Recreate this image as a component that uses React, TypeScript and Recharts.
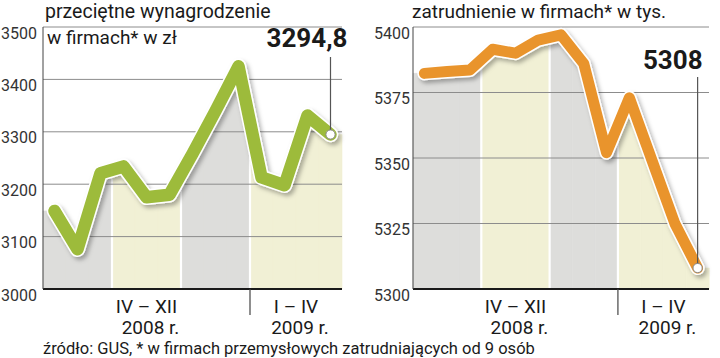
import React from 'react';
import { ComposedChart, Bar, Line, XAxis, YAxis, ReferenceLine } from 'recharts';

// months April 2008 – April 2009
const months = ['IV.08', 'V.08', 'VI.08', 'VII.08', 'VIII.08', 'IX.08', 'X.08', 'XI.08', 'XII.08', 'I.09', 'II.09', 'III.09', 'IV.09'];
const wages = [3149, 3076, 3221, 3234, 3175, 3180, 3258, 3340, 3425, 3213, 3198, 3331, 3294.8];
const employment = [5382.3, 5383, 5383.6, 5391.5, 5390, 5395, 5397, 5386, 5352, 5373, 5349, 5325, 5308];
// 0 = grey quarter, 1 = light yellow quarter
const bandGroup = [0, 0, 0, 1, 1, 1, 0, 0, 0, 1, 1, 1, 1];
const wageTicks = [3000, 3100, 3200, 3300, 3400, 3500];
const employmentTicks = [5300, 5325, 5350, 5375, 5400];
const periodLabels = [
  { start: 0, len: 9, top: 'IV  – XII', bottom: '2008 r.' },
  { start: 9, len: 4, top: 'I – IV', bottom: '2009 r.' },
];

const FONT = "Roboto, 'Liberation Sans', Arial, sans-serif";
const BAND_FILLS = ['#dddddb', '#f1f0d5'];
const CHART_W = 360;
const CHART_H = 358;
const PLOT_TOP = 27;
const PLOT_BOTTOM = 289;

interface PanelProps {
  values: number[];
  ticks: number[];
  color: string;
  yAxisWidth: number;
  rightMargin: number;
  lineWidth: number;
  valueText: string;
  valueRight: number; // x offset of label end from the last point
  valueBaseline: number;
  leaderTop: number;
  tickMargin: number;
}

function Panel({
  values,
  ticks,
  color,
  yAxisWidth,
  rightMargin,
  lineWidth,
  valueText,
  valueRight,
  valueBaseline,
  leaderTop,
  tickMargin,
}: PanelProps) {
  const data = months.map((m, i) => ({ m, v: values[i] }));
  const min = ticks[0];
  const max = ticks[ticks.length - 1];
  const bw = (CHART_W - yAxisWidth - rightMargin) / months.length;

  // area under the line, split per month so each quarter gets its own colour
  const bandShape = (props: any) => {
    const { x, y, width, height, payload } = props;
    const i = props.index ?? months.indexOf(payload.m);
    const v = values[i];
    const k = height / (v - min);
    const prev = i > 0 ? values[i - 1] : v;
    const next = i < values.length - 1 ? values[i + 1] : v;
    const yl = y + ((v - prev) / 2) * k;
    const yr = y + ((v - next) / 2) * k;
    const base = y + height;
    const fill = BAND_FILLS[bandGroup[i]];
    const bandStart = i > 0 && bandGroup[i] !== bandGroup[i - 1];
    return (
      <g>
        <path
          d={`M${x},${base}L${x},${yl}L${x + width / 2},${y}L${x + width},${yr}L${x + width},${base}Z`}
          fill={fill}
          stroke={fill}
          strokeWidth={0.6}
        />
        {bandStart && <line x1={x} x2={x} y1={yl} y2={base} stroke="#fff" strokeWidth={2.2} />}
      </g>
    );
  };

  const lastDot = (props: any) => {
    const { cx, cy, index } = props;
    if (index !== values.length - 1) return <g key={`d${index}`} />;
    return (
      <g key={`d${index}`}>
        <line x1={cx} x2={cx} y1={leaderTop} y2={cy - 4} stroke="#555" strokeWidth={1.2} />
        <circle cx={cx} cy={cy} r={4.6} fill="#fff" stroke="#888" strokeWidth={1} />
        <text
          x={cx + valueRight}
          y={valueBaseline}
          textAnchor="end"
          fontFamily={FONT}
          fontWeight={700}
          fontSize={26}
          fill="#1a1a1a"
        >
          {valueText}
        </text>
      </g>
    );
  };

  const yTick = (props: any) => {
    const { x, y, payload } = props;
    return (
      <text x={x} y={y + 11.5} textAnchor="end" fontFamily={FONT} fontSize={16} fill="#333">
        {payload.value}
      </text>
    );
  };

  const xTick = (props: any) => {
    const { x, index } = props;
    const p = periodLabels.find((pl) => pl.start === index);
    if (!p) return <g />;
    const left = x - bw / 2;
    const cx = left + (p.len * bw) / 2;
    return (
      <g>
        {index > 0 && <line x1={left} x2={left} y1={PLOT_BOTTOM} y2={PLOT_BOTTOM + 26} stroke="#444" strokeWidth={1.2} />}
        <text x={cx} y={PLOT_BOTTOM + 24} textAnchor="middle" fontFamily={FONT} fontSize={19} fill="#1a1a1a">
          {p.top}
        </text>
        <text x={cx + 4} y={PLOT_BOTTOM + 45} textAnchor="middle" fontFamily={FONT} fontSize={19} fill="#1a1a1a">
          {p.bottom}
        </text>
      </g>
    );
  };

  return (
    <ComposedChart
      width={CHART_W}
      height={CHART_H}
      data={data}
      margin={{ top: PLOT_TOP, right: rightMargin, left: 0, bottom: CHART_H - PLOT_BOTTOM - 50 }}
      barCategoryGap={0}
      barGap={0}
    >
      <XAxis
        dataKey="m"
        interval={0}
        height={50}
        tickLine={false}
        tick={xTick}
        axisLine={{ stroke: '#1a1a1a', strokeWidth: 2 }}
      />
      <YAxis
        type="number"
        domain={[min, max]}
        ticks={ticks}
        width={yAxisWidth}
        tickLine={false}
        tickSize={0}
        tickMargin={tickMargin}
        tick={yTick}
        axisLine={{ stroke: '#444', strokeWidth: 1 }}
        allowDataOverflow
      />
      <Bar dataKey="v" shape={bandShape} isAnimationActive={false} />
      {ticks.slice(1).map((t) => (
        <ReferenceLine key={t} y={t} stroke="#8c8c8c" strokeWidth={1} />
      ))}
      <Line
        dataKey="v"
        type="linear"
        stroke="#ffffff"
        strokeWidth={lineWidth + 3}
        strokeLinejoin="round"
        strokeLinecap="round"
        dot={false}
        activeDot={false}
        isAnimationActive={false}
      />
      <Line
        dataKey="v"
        type="linear"
        stroke={color}
        strokeWidth={lineWidth}
        strokeLinejoin="round"
        strokeLinecap="round"
        dot={lastDot}
        activeDot={false}
        isAnimationActive={false}
      />
    </ComposedChart>
  );
}

export default function App() {
  return (
    <div style={{ position: 'fixed', left: 0, top: 0, width: 720, height: 358, background: '#fff', overflow: 'hidden' }}>
      <style>{`path.recharts-line-curve[stroke="#ffffff"] { filter: url(#lineShadow); }`}</style>
      <svg width={0} height={0} style={{ position: 'absolute' }}>
        <defs>
          <filter id="lineShadow" x="-10%" y="-10%" width="130%" height="130%">
            <feDropShadow dx={2.5} dy={3} stdDeviation={2.2} floodColor="#000" floodOpacity={0.3} />
          </filter>
        </defs>
      </svg>
      <div style={{ position: 'absolute', left: 0, top: 0 }}>
        <Panel
          values={wages}
          ticks={wageTicks}
          color="#9dbb3b"
          yAxisWidth={43}
          rightMargin={18}
          lineWidth={12.5}
          valueText="3294,8"
          valueRight={17}
          valueBaseline={47}
          leaderTop={57}
          tickMargin={6}
        />
      </div>
      <div style={{ position: 'absolute', left: 360, top: 0 }}>
        <Panel
          values={employment}
          ticks={employmentTicks}
          color="#e9942c"
          yAxisWidth={53}
          rightMargin={11}
          lineWidth={11}
          valueText="5308"
          valueRight={5}
          valueBaseline={69}
          leaderTop={77}
          tickMargin={3}
        />
      </div>
      <svg width={720} height={358} style={{ position: 'absolute', left: 0, top: 0, pointerEvents: 'none' }}>
        <g fontFamily={FONT} fill="#1a1a1a">
          <text x={45} y={18} fontSize={19.5}>przeciętne wynagrodzenie</text>
          <text x={47} y={44} fontSize={19}>w firmach* w zł</text>
          <text x={412} y={18} fontSize={19}>zatrudnienie w firmach* w tys.</text>
          <text x={43} y={354} fontSize={16.5}>źródło: GUS, * w firmach przemysłowych zatrudniających od 9 osób</text>
        </g>
      </svg>
    </div>
  );
}
